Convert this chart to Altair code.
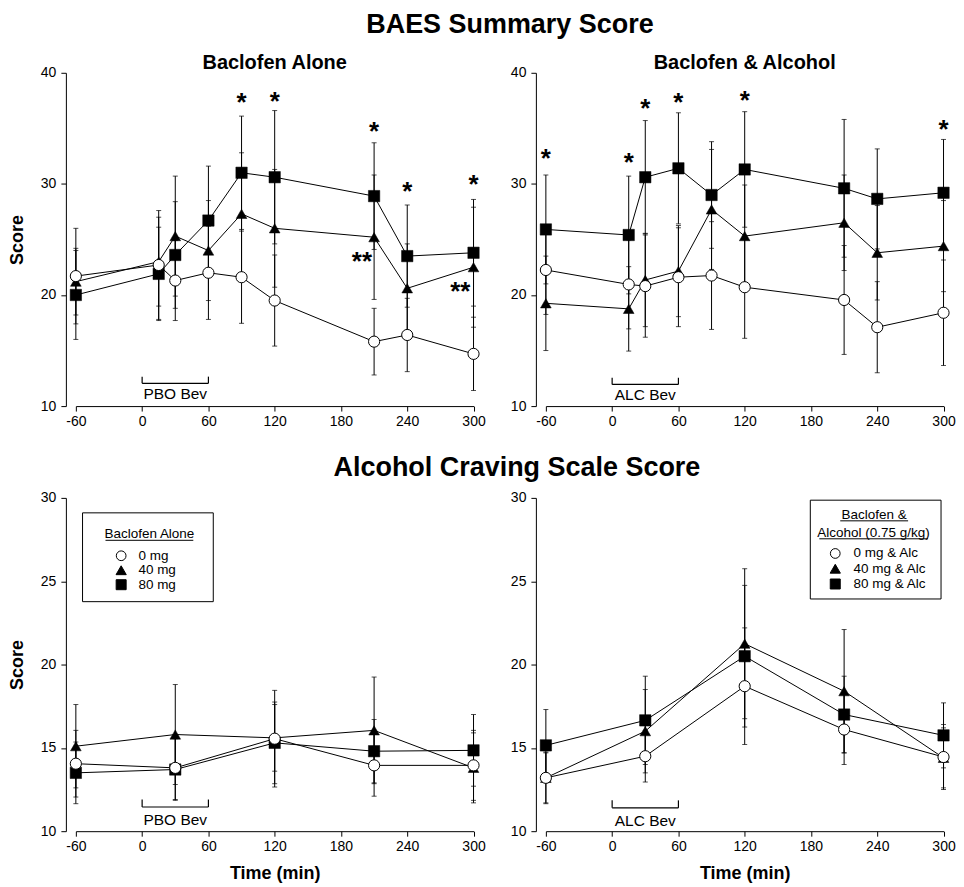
import altair as alt
import pandas as pd

# ---------------- data ----------------
XTICKS = [-60, 0, 60, 120, 180, 240, 300]
TIMES_BAES = [-60, 15, 30, 60, 90, 120, 210, 240, 300]
TIMES_ACS = [-60, 30, 120, 210, 300]
DOSES = ["0 mg", "40 mg", "80 mg"]

# BAES summary score - Baclofen alone
BA_MEAN_0 = [21.7, 22.7, 21.3, 22.0, 21.6, 19.5, 15.8, 16.4, 14.7]
BA_MEAN_40 = [21.2, 23.0, 25.3, 24.0, 27.3, 26.0, 25.2, 20.6, 22.5]
BA_MEAN_80 = [20.0, 21.9, 23.6, 26.7, 31.0, 30.6, 28.9, 23.5, 23.8]
BA_SD_0 = [4.3, 4.9, 3.6, 4.2, 4.15, 4.1, 3.0, 3.3, 3.3]
BA_SD_40 = [3.0, 4.0, 5.4, 4.5, 5.5, 5.3, 5.6, 4.0, 5.4]
BA_SD_80 = [4.0, 4.2, 4.8, 4.9, 5.1, 6.0, 4.8, 4.6, 4.8]

# BAES summary score - Baclofen & alcohol
BAL_MEAN_0 = [22.25, 20.95, 20.8, 21.6, 21.75, 20.7, 19.55, 17.1, 18.4]
BAL_MEAN_40 = [19.25, 18.75, 21.35, 22.15, 27.7, 25.3, 26.5, 23.8, 24.4]
BAL_MEAN_80 = [25.9, 25.4, 30.6, 31.4, 29.0, 31.3, 29.6, 28.65, 29.2]
BAL_SD_0 = [4.0, 4.0, 4.6, 4.45, 4.85, 4.6, 4.9, 4.1, 4.75]
BAL_SD_40 = [4.25, 3.8, 4.2, 4.1, 5.4, 4.6, 4.3, 4.25, 4.1]
BAL_SD_80 = [4.9, 5.3, 5.1, 5.0, 4.8, 5.2, 6.2, 4.5, 4.8]

# Alcohol craving scale - Baclofen alone
CA_MEAN_0 = [14.05, 13.8, 15.55, 13.95, 13.95]
CA_MEAN_40 = [15.1, 15.8, 15.6, 16.05, 13.8]
CA_MEAN_80 = [13.5, 13.7, 15.3, 14.8, 14.85]
CA_SD_0 = [2.0, 1.9, 2.9, 1.85, 2.1]
CA_SD_40 = [2.5, 3.0, 2.0, 3.2, 2.1]
CA_SD_80 = [1.85, 1.85, 2.45, 1.9, 2.15]

# Alcohol craving scale - Baclofen & alcohol
CAL_MEAN_0 = [13.2, 14.5, 18.7, 16.1, 14.45]
CAL_MEAN_40 = [13.2, 16.0, 21.25, 18.4, 14.4]
CAL_MEAN_80 = [15.15, 16.65, 20.5, 17.0, 15.75]
CAL_SD_0 = [1.55, 1.55, 3.5, 2.1, 1.95]
CAL_SD_40 = [1.5, 2.5, 4.5, 3.7, 1.8]
CAL_SD_80 = [2.15, 2.65, 4.25, 2.3, 1.95]

# significance markers (time, score, label)
STARS_BA_T = [90, 120, 210, 240, 300, 199, 288]
STARS_BA_Y = [37.9, 38.0, 35.3, 29.9, 30.5, 23.6, 20.9]
STARS_BA_L = ["*", "*", "*", "*", "*", "**", "**"]
STARS_BAL_T = [-60, 15, 30, 60, 120, 300]
STARS_BAL_Y = [32.9, 32.5, 37.4, 37.9, 38.1, 35.5]
STARS_BAL_L = ["*", "*", "*", "*", "*", "*"]

BEV_START, BEV_END = 0, 60
LEGEND_ALONE = ["0 mg", "40 mg", "80 mg"]
LEGEND_ALC = ["0 mg & Alc", "40 mg & Alc", "80 mg & Alc"]

# ---------------- helpers ----------------
FONT = "Liberation Sans"
W, H = 398.5, 334
ONE = pd.DataFrame({"k": [0]})


def long_df(times, means, sds):
    rows = []
    for dose in ["80 mg", "40 mg", "0 mg"]:
        for t, m, s in zip(times, means[dose], sds[dose]):
            rows.append({"time": t, "dose": dose, "mean": m, "lo": m - s, "hi": m + s})
    return pd.DataFrame(rows)


def panel(df, ydomain, yvals, ytitle, xtitle, stars, bev, texts, legend):
    xscale = alt.Scale(domain=[-60, 300], nice=False, zero=False)
    yscale = alt.Scale(domain=ydomain, nice=False, zero=False)
    xaxis = alt.Axis(values=XTICKS, title=xtitle, labelExpr="'' + datum.value",
                     tickSize=5, labelPadding=3, titlePadding=11, labelFlush=False)
    yaxis = alt.Axis(values=yvals, offset=10, title=ytitle, tickSize=5,
                     labelPadding=5, titlePadding=14, labelFlush=False)

    def X(f):
        return alt.X(f"{f}:Q", scale=xscale, axis=xaxis)

    def Y(f):
        return alt.Y(f"{f}:Q", scale=yscale, axis=yaxis)

    base = alt.Chart(df)
    layers = []
    layers.append(base.mark_line(color="black", strokeWidth=1).encode(
        x=X("time"), y=Y("mean"), detail="dose:N"))
    layers.append(base.mark_errorbar(ticks=True, size=5, thickness=1, color="black").encode(
        x=X("time"), y=Y("lo"), y2="hi:Q"))
    layers.append(base.transform_filter(alt.datum.dose == "80 mg").mark_point(
        shape="square", filled=True, fill="black", stroke="black", strokeWidth=0.5,
        size=130, opacity=1).encode(x=X("time"), y=Y("mean")))
    layers.append(base.transform_filter(alt.datum.dose == "40 mg").mark_point(
        shape="triangle-up", filled=True, fill="black", stroke="black", strokeWidth=0.5,
        size=115, opacity=1).encode(x=X("time"), y=Y("mean")))
    layers.append(base.transform_filter(alt.datum.dose == "0 mg").mark_point(
        shape="circle", filled=True, fill="white", stroke="black", strokeWidth=1,
        size=125, opacity=1).encode(x=X("time"), y=Y("mean")))

    if stars is not None:
        sdf = pd.DataFrame({"time": stars[0], "y": stars[1], "label": stars[2]})
        layers.append(alt.Chart(sdf).mark_text(
            font=FONT, fontWeight="bold", fontSize=26, baseline="alphabetic",
            align="center", dy=15, color="black").encode(
            x=X("time"), y=Y("y"), text="label:N"))

    # beverage bracket
    label, level, tick, ty = bev
    bdf = pd.DataFrame({"x0": [BEV_START], "x1": [BEV_END], "y0": [level],
                        "y1": [level + tick], "mid": [(BEV_START + BEV_END) / 2],
                        "ty": [ty], "label": [label]})
    bch = alt.Chart(bdf)
    layers.append(bch.mark_rule(color="black", strokeWidth=1.2).encode(
        x=X("x0"), x2="x1:Q", y=Y("y0")))
    layers.append(bch.mark_rule(color="black", strokeWidth=1.2).encode(
        x=X("x0"), y=Y("y0"), y2="y1:Q"))
    layers.append(bch.mark_rule(color="black", strokeWidth=1.2).encode(
        x=X("x1"), y=Y("y0"), y2="y1:Q"))
    layers.append(bch.mark_text(font=FONT, fontSize=15.5, baseline="middle",
                                align="center", color="black").encode(
        x=X("mid"), y=Y("ty"), text="label:N"))

    # titles / headings
    for (tx, tyy, txt, fs) in texts:
        layers.append(alt.Chart(ONE).mark_text(
            text=txt, font=FONT, fontWeight="bold", fontSize=fs, align="center",
            baseline="alphabetic", color="black").encode(
            x=alt.value(tx), y=alt.value(tyy)))

    # legend
    if legend is not None:
        box, title_lines, underlines, sym_x, rows_y, label_x, labels = legend
        layers.append(alt.Chart(ONE).mark_rect(
            fill="white", stroke="black", strokeWidth=1).encode(
            x=alt.value(box[0]), y=alt.value(box[1]),
            x2=alt.value(box[2]), y2=alt.value(box[3])))
        for (tx, tyy, txt) in title_lines:
            layers.append(alt.Chart(ONE).mark_text(
                text=txt, font=FONT, fontSize=13.5, align="center",
                baseline="alphabetic", color="black").encode(
                x=alt.value(tx), y=alt.value(tyy)))
        for (u0, u1, uy) in underlines:
            layers.append(alt.Chart(ONE).mark_rule(color="black", strokeWidth=1).encode(
                x=alt.value(u0), x2=alt.value(u1), y=alt.value(uy)))
        shapes = [("circle", "white", 95), ("triangle-up", "black", 105), ("square", "black", 100)]
        for (shp, fill, sz), ry, lab in zip(shapes, rows_y, labels):
            layers.append(alt.Chart(ONE).mark_point(
                shape=shp, filled=True, fill=fill, stroke="black", strokeWidth=1,
                size=sz, opacity=1).encode(x=alt.value(sym_x), y=alt.value(ry)))
            layers.append(alt.Chart(ONE).mark_text(
                text=lab, font=FONT, fontSize=13.5, align="left", baseline="middle",
                color="black").encode(x=alt.value(label_x), y=alt.value(ry)))

    return alt.layer(*layers).properties(width=W, height=H)


df_ba = long_df(TIMES_BAES, {"0 mg": BA_MEAN_0, "40 mg": BA_MEAN_40, "80 mg": BA_MEAN_80},
                {"0 mg": BA_SD_0, "40 mg": BA_SD_40, "80 mg": BA_SD_80})
df_bal = long_df(TIMES_BAES, {"0 mg": BAL_MEAN_0, "40 mg": BAL_MEAN_40, "80 mg": BAL_MEAN_80},
                 {"0 mg": BAL_SD_0, "40 mg": BAL_SD_40, "80 mg": BAL_SD_80})
df_ca = long_df(TIMES_ACS, {"0 mg": CA_MEAN_0, "40 mg": CA_MEAN_40, "80 mg": CA_MEAN_80},
                {"0 mg": CA_SD_0, "40 mg": CA_SD_40, "80 mg": CA_SD_80})
df_cal = long_df(TIMES_ACS, {"0 mg": CAL_MEAN_0, "40 mg": CAL_MEAN_40, "80 mg": CAL_MEAN_80},
                 {"0 mg": CAL_SD_0, "40 mg": CAL_SD_40, "80 mg": CAL_SD_80})

tl = panel(df_ba, [10, 40], [10, 20, 30, 40], "Score", None,
           (STARS_BA_T, STARS_BA_Y, STARS_BA_L), ("PBO Bev", 12.05, 0.6, 11.05),
           [(435, -40, "BAES Summary Score", 27), (W / 2, -3.5, "Baclofen Alone", 20)],
           None)
tr = panel(df_bal, [10, 40], [10, 20, 30, 40], None, None,
           (STARS_BAL_T, STARS_BAL_Y, STARS_BAL_L), ("ALC Bev", 11.95, 0.6, 11.0),
           [(W / 2, -3.5, "Baclofen & Alcohol", 20)],
           None)
bl = panel(df_ca, [10, 30], [10, 15, 20, 25, 30], "Score", "Time (min)",
           None, ("PBO Bev", 11.45, 0.45, 10.65),
           [(442, -22, "Alcohol Craving Scale Score", 27)],
           ((6.7, 15, 137.7, 104), [(73.7, 40, "Baclofen Alone")], [(29.7, 117.7, 42.5)],
            45.4, [58, 72.5, 87], 62.7, LEGEND_ALONE))
br = panel(df_cal, [10, 30], [10, 15, 20, 25, 30], None, "Time (min)",
           None, ("ALC Bev", 11.4, 0.45, 10.6),
           [],
           ((265, 2.3, 396, 101.3), [(329, 21.3, "Baclofen  &"), (328.3, 39, "Alcohol (0.75 g/kg)")],
            [(295, 363, 23), (274, 383, 41)],
            290, [55.7, 71, 86.3], 308.3, LEGEND_ALC))

chart = alt.concat(tl, tr, bl, br, columns=2, spacing={"row": 92, "column": 72},
                   bounds="flush").properties(
    padding={"top": 2, "left": 0, "right": 0, "bottom": 0}
).configure_view(stroke=None).configure_axis(
    grid=False, domainColor="black", tickColor="black", labelColor="black",
    titleColor="black", labelFont=FONT, labelFontSize=14, titleFont=FONT,
    titleFontSize=18, titleFontWeight="bold", domainWidth=1, tickWidth=1
).configure_text(font=FONT)

chart.save("out.html", embed_options={"renderer": "svg", "actions": False})
